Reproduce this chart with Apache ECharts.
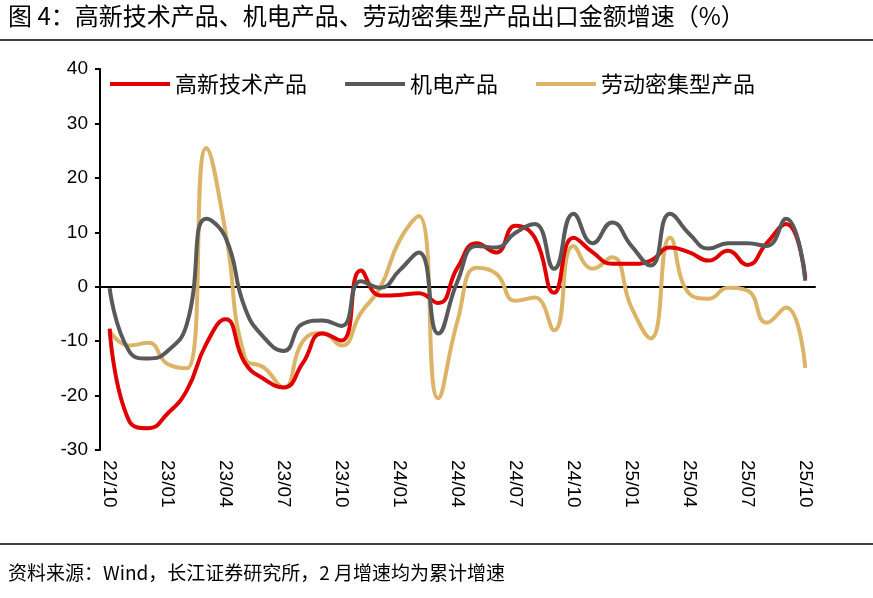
<!DOCTYPE html><html><head><meta charset="utf-8"><script src="https://cdn.jsdelivr.net/npm/echarts@6/dist/echarts.min.js"></script>
<style>body{margin:0;background:#fff}#c{width:873px;height:598px}</style></head><body><div id="c"></div><script>
const months=["22/10","22/11","22/12","23/01","23/02","23/03","23/04","23/05","23/06","23/07","23/08","23/09","23/10","23/11","23/12","24/01","24/02","24/03","24/04","24/05","24/06","24/07","24/08","24/09","24/10","24/11","24/12","25/01","25/02","25/03","25/04","25/05","25/06","25/07","25/08","25/09","25/10"];
const hiTech=[-7.7,-24.6,-26,-23.3,-19,-10.5,-6,-14,-17,-18.5,-14,-8.6,-9.9,3,-1.6,-1.5,-1.2,-3,3.5,8,6.3,11.2,9,-1.1,9,6.3,4.2,4.2,4.8,7.2,6.3,4.8,6.6,4,8,11.5,1.7];
const mechElec=[-0.3,-11.8,-13.2,-11.8,-6.8,12.5,9,-3.9,-9.4,-11.8,-6.8,-6.2,-7.2,1,-0.2,3,6.3,-8.6,1,7.5,7.2,9.9,11.5,3.3,13.4,8,11.8,7.5,3.9,13.4,9.7,7,8,8,7.5,12.5,1.1];
const labor=[-8.1,-10.8,-10.3,-14.2,-15,25.5,10,-13,-14.9,-18.5,-10,-8.5,-10.8,-4.8,-0.2,8.5,13,-20.5,-6.3,3.5,2.4,-2.6,-2,-8,7.5,3.3,5.4,-3.8,-9.5,9,-1.3,-2.2,-0.2,-0.7,-6.6,-3.8,-14.9];
const names=["高新技术产品","机电产品","劳动密集型产品"];
const colors=["#e00000","#595959","#dcb468"];
const ch=echarts.init(document.getElementById('c'));
const ff='"Noto Sans CJK SC","Liberation Sans",sans-serif';
ch.setOption({
 animation:false,
 graphic:[
  {type:'text',left:8,top:4,style:{text:'图 4：高新技术产品、机电产品、劳动密集型产品出口金额增速（%）',font:'24px '+ff,fill:'#000'}},
  {type:'line',shape:{x1:0,y1:40,x2:873,y2:40},style:{stroke:'#000',lineWidth:1.5}},
  {type:'line',shape:{x1:0,y1:544,x2:873,y2:544},style:{stroke:'#000',lineWidth:1.5}},
  {type:'text',left:8,top:563,style:{text:'资料来源：Wind，长江证券研究所，2 月增速均为累计增速',font:'19px '+ff,fill:'#000'}}
 ],
 legend:{top:68,left:105,itemGap:38,itemWidth:60,itemHeight:4,icon:'rect',textStyle:{fontSize:22,fontFamily:ff,color:'#000'},data:names},
 grid:{left:100,right:58,top:69,bottom:148},
 xAxis:[
  {type:'category',data:months,boundaryGap:true,axisLine:{onZero:true,lineStyle:{color:'#000',width:2}},axisTick:{inside:true,interval:2,length:6,lineStyle:{color:'#000',width:2}},axisLabel:{show:false}},
  {type:'category',data:months,boundaryGap:true,position:'bottom',axisLine:{show:false},axisTick:{show:false},axisLabel:{interval:2,rotate:-90,fontSize:19,fontFamily:'Liberation Sans',color:'#000',margin:10}}
 ],
 yAxis:{type:'value',min:-30,max:40,interval:10,splitLine:{show:false},axisLine:{show:true,lineStyle:{color:'#000',width:2}},axisTick:{show:true,length:5,lineStyle:{color:'#000',width:2}},axisLabel:{fontSize:19,fontFamily:'Liberation Sans',color:'#000',margin:12}},
 series:[hiTech,mechElec,labor].map((d,i)=>({name:names[i],type:'line',data:d,smooth:0.5,symbol:'none',lineStyle:{width:4,color:colors[i]},itemStyle:{color:colors[i]},z:[2,3,1][i]}))
});
</script></body></html>
